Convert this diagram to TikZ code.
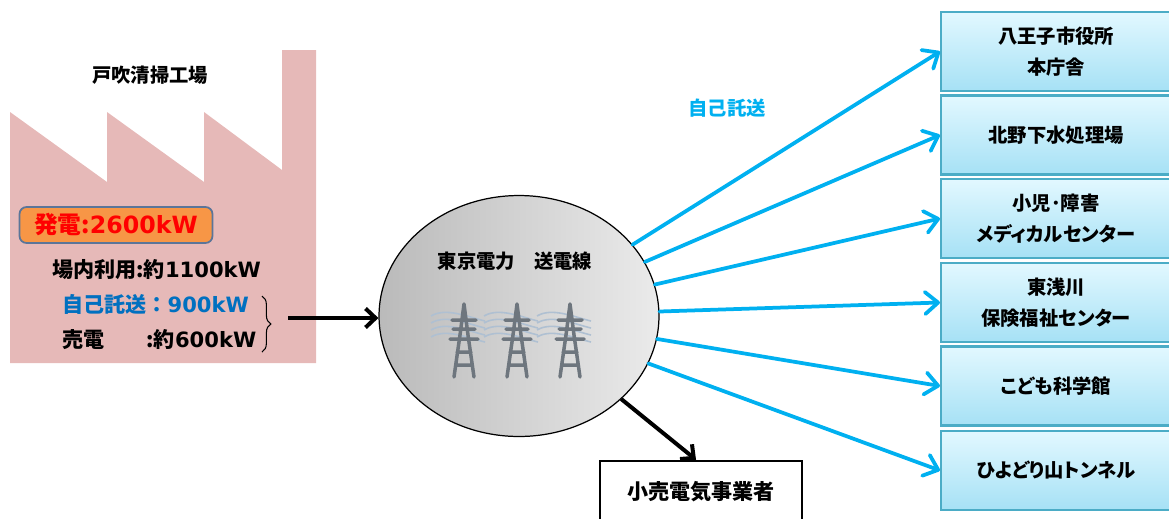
\documentclass[tikz,border=0pt]{standalone}
\usepackage{fontspec}
\setmainfont{Noto Sans CJK JP}[RawFeature=+palt]
\newfontfamily\kwfont{DejaVu Sans}
\usepackage{xcolor}
\usetikzlibrary{arrows.meta}
\usetikzlibrary{shapes.geometric}
\usetikzlibrary{decorations.pathreplacing}

\definecolor{plantpink}{HTML}{E6B9B8}
\definecolor{genorange}{HTML}{F79646}
\definecolor{genframe}{HTML}{5B7599}
\definecolor{selfblue}{HTML}{0070C0}
\definecolor{feedblue}{HTML}{00B0F0}
\definecolor{sitetop}{HTML}{E2F8FF}
\definecolor{sitebot}{HTML}{A6E1F5}
\definecolor{siteframe}{HTML}{4BACC6}
\definecolor{pylongray}{HTML}{6E767E}
\definecolor{wiregray}{HTML}{AFC0D2}

\begin{document}
\begin{tikzpicture}[
        x=0.02cm, y=-0.02cm,
        font=\bfseries\fontsize{11}{13}\selectfont,
        site/.style={
            draw=siteframe, line width=1.2pt,
            top color=sitetop, bottom color=sitebot,
            minimum width=4.6cm, minimum height=1.58cm,
            inner sep=0pt, align=center,
            font=\bfseries\fontsize{11}{17.6}\selectfont
        },
        feed/.style={draw=feedblue, line width=0.075cm, line cap=round,
            -{Straight Barb[length=0.26cm,width=0.44cm,round]}},
        sell/.style={line width=0.08cm, -{Straight Barb[length=0.2cm,width=0.38cm]}},
        row/.style={anchor=west, font=\bfseries\fontsize{12}{14}\selectfont},
        pylon/.pic={
            \foreach \h in {-61,-54,-47,-40}
                \draw[wiregray, line width=0.9pt] (-33,\h) .. controls (-18,\h-9) and (4,\h+1) .. (21,\h+5);
            \draw[pylongray, line width=0.07cm, line cap=round, line join=round]
                (-10,0) -- (-4,-42) -- (0,-73) -- (4,-42) -- (10,0)
                (-12,-57) -- (12,-57) (-11,-48) -- (11,-48) (-14,-38) -- (14,-38)
                (-7,-25) -- (7,-25) (-8.5,-12) -- (8.5,-12);
        },
        ]
        \useasboundingbox (0,0) rectangle (1169,518);
        \clip (0,0) rectangle (1169,518);

        % factory
        \fill[plantpink] (10,363) -- (10,112) -- (107,182) -- (107,112) -- (204,182) -- (204,112)
            -- (282,170) -- (282,50) -- (316,50) -- (316,363) -- cycle;
        \node (plant) at (150,75) {戸吹清掃工場};
        \node[draw=genframe, line width=1pt, fill=genorange, rounded corners=4pt, text=red,
            minimum width=3.86cm, minimum height=0.72cm, inner sep=0pt,
            font=\bfseries\fontsize{13.5}{15}\selectfont] (gen) at (116,225) {発電:{\kwfont 2600kW}};
        \node[row] (own) at (46,270) {場内利用:約{\kwfont 1100kW}};
        \node[row, text=selfblue] (self) at (56,304) {自己託送\hspace{0.25em}：\hspace{0.25em}{\kwfont 900kW}};
        \node[row] (sale) at (56,340) {\makebox[4em][l]{売電}:約{\kwfont 600kW}};
        \draw[decorate, decoration={brace, amplitude=5pt}, line width=0.6pt] (262,296) -- (262,352);
        \coordinate (sold) at (288,318);

        % grid
        \node[ellipse, draw, line width=0.7pt, left color=black!27, right color=black!8,
            minimum width=5.6cm, minimum height=4.82cm, inner sep=0pt] (tepco) at (519,316) {};
        \node (tepcolabel) at (515,261) {東京電力　送電線};
        \pic at (464,377) {pylon};
        \pic at (517,377) {pylon};
        \pic at (570,377) {pylon};

        \node[text=feedblue] (selflabel) at (727,108) {自己託送};

        % receivers
        \node[site] (hachioji) at (1056,51.5) {八王子市役所\\本庁舎};
        \node[site] (kitano) at (1056,135) {北野下水処理場};
        \node[site] (medical) at (1056,218.5) {小児･障害\\メディカルセンター};
        \node[site] (higashiasa) at (1056,302.5) {東浅川\\保険福祉センター};
        \node[site] (science) at (1056,386) {こども科学館};
        \node[site] (tunnel) at (1056,470.5) {ひよどり山トンネル};

        \node[draw, line width=0.05cm, fill=white, minimum width=4.04cm, minimum height=1.24cm,
            font=\bfseries\fontsize{12}{14}\selectfont] (retail) at (701,492) {小売電気事業者};

        \draw[sell] (sold) -- (sold -| tepco.west);
        \draw[feed] (tepco) -- (hachioji.west);
        \draw[feed] (tepco) -- (kitano.west);
        \draw[feed] (tepco) -- (medical.west);
        \draw[feed] (tepco) -- (higashiasa.west);
        \draw[feed] (tepco) -- (science.west);
        \draw[feed] (tepco) -- (tunnel.west);
        \draw[sell] (tepco) -- ([xshift=-0.1cm]retail.north);
    \end{tikzpicture}
\end{document}
